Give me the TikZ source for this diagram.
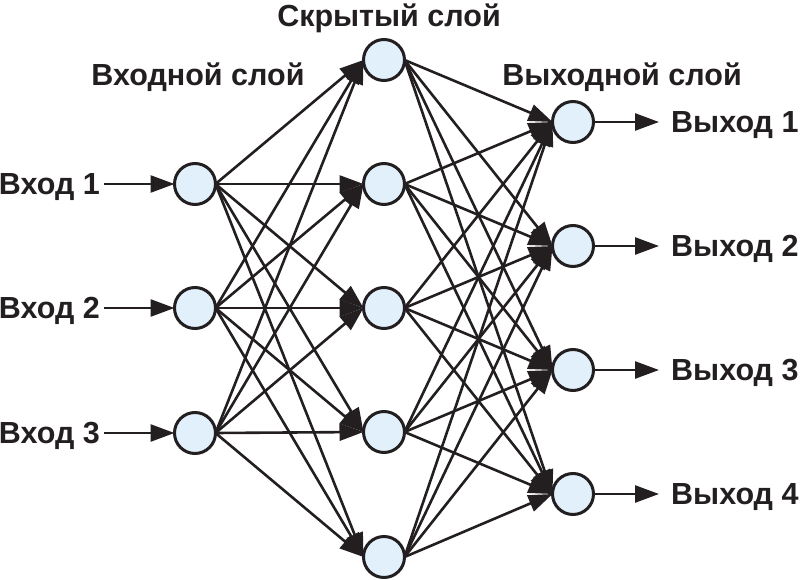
\documentclass[tikz,border=0pt]{standalone}
\usepackage{fontspec}
\setmainfont{Liberation Sans}
\usetikzlibrary{arrows.meta}
\definecolor{ink}{HTML}{231F20}
\definecolor{cellfill}{HTML}{E1F0FB}
\tikzset{
  neuron/.style={circle, draw=ink, fill=cellfill, line width=3pt, minimum size=41pt, inner sep=0pt, outer sep=0pt},
  conn/.style={draw=ink, line width=2.6pt, -{Triangle[length=24pt,width=17pt]}},
  lbl/.style={font=\bfseries\fontsize{30.5}{32}\selectfont, text=ink, text height=21pt, text depth=0pt, inner sep=0pt},
}
\begin{document}
\begin{tikzpicture}[x=1pt,y=-1pt]
\useasboundingbox (0,0) rectangle (800,580);
% input layer
\node[neuron] (i1) at (195,184) {};
\node[neuron] (i2) at (195,308) {};
\node[neuron] (i3) at (195,433) {};
% hidden layer
\node[neuron] (h1) at (384,60) {};
\node[neuron] (h2) at (384,184) {};
\node[neuron] (h3) at (384,308) {};
\node[neuron] (h4) at (384,432) {};
\node[neuron] (h5) at (384,557) {};
% output layer
\node[neuron] (o1) at (573,122) {};
\node[neuron] (o2) at (573,246) {};
\node[neuron] (o3) at (573,370) {};
\node[neuron] (o4) at (573,494) {};
% labels
\node[lbl, anchor=east, inner xsep=4pt] (x1) at (104,184) {Вход 1};
\node[lbl, anchor=east, inner xsep=4pt] (x2) at (104,308) {Вход 2};
\node[lbl, anchor=east, inner xsep=4pt] (x3) at (104,433) {Вход 3};
\node[lbl, anchor=west, inner xsep=12pt] (y1) at (659,122) {Выход 1};
\node[lbl, anchor=west, inner xsep=12pt] (y2) at (659,246) {Выход 2};
\node[lbl, anchor=west, inner xsep=12pt] (y3) at (659,370) {Выход 3};
\node[lbl, anchor=west, inner xsep=12pt] (y4) at (659,494) {Выход 4};
\node[lbl] (t1) at (198,75) {Входной слой};
\node[lbl] (t2) at (389,16) {Скрытый слой};
\node[lbl] (t3) at (622,75) {Выходной слой};
% connections
\foreach \k in {1,2,3} \draw[conn] (x\k) -- (i\k);
\foreach \k in {1,2,3,4} \draw[conn] (o\k) -- (y\k);
\foreach \a in {1,2,3} \foreach \b in {1,...,5} \draw[conn] (i\a.east) -- (h\b.west);
\foreach \a in {1,...,5} \foreach \b in {1,...,4} \draw[conn] (h\a.east) -- (o\b.west);
\end{tikzpicture}
\end{document}
